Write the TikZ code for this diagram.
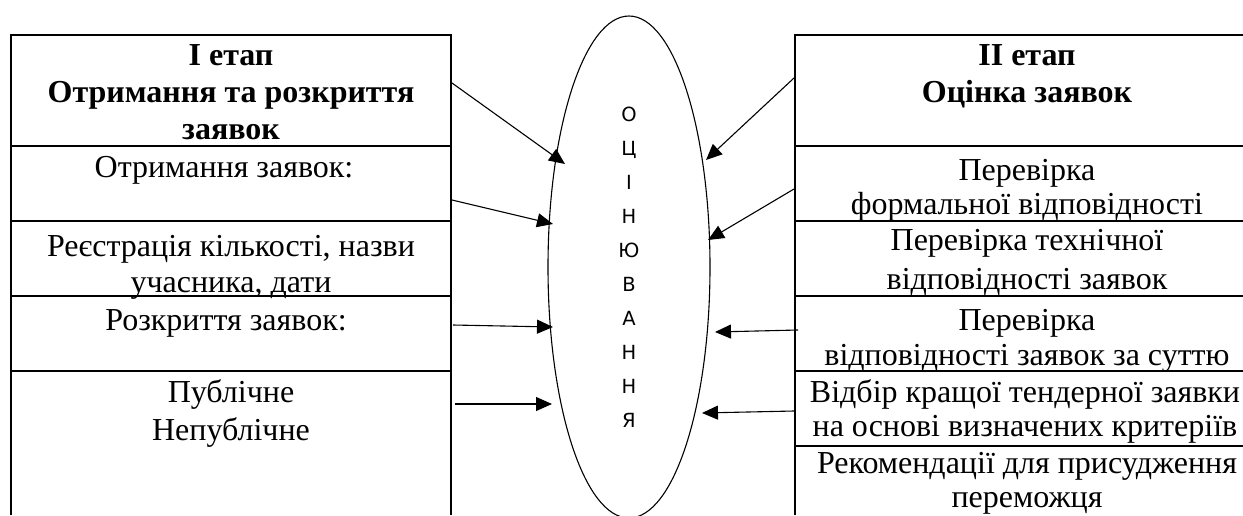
\documentclass[tikz,border=0pt]{standalone}
\usepackage{fontspec}
\setmainfont{Liberation Serif}
\newfontfamily\ellfont{DejaVu Sans}
\usetikzlibrary{arrows.meta,shapes.geometric}
\begin{document}
\begin{tikzpicture}[x=1pt,y=-1pt,
  tab/.style={line width=1.3pt},
  arr/.style={line width=1.1pt,-{Triangle[length=16pt,width=14pt]}},
  txt/.style={font=\fontsize{32}{37}\selectfont, anchor=base, inner sep=0pt},
  hdr/.style={font=\fontsize{32}{37}\selectfont\bfseries, anchor=base, inner sep=0pt},
  letter/.style={font=\ellfont\fontsize{19.5}{22}\selectfont, anchor=base, inner sep=0pt},
  ]
\useasboundingbox (0,0) rectangle (1243,515);
% left table
\draw[tab] (11,515) -- (11,35) -- (451,35) -- (451,515);
\foreach \y in {146,221,296,371} \draw[tab] (11,\y) -- (451,\y);
% right table
\draw[tab] (1243,35) -- (795,35) -- (795,515);
\foreach \y in {146,221,296,371,446} \draw[tab] (795,\y) -- (1243,\y);
% ellipse
\node[draw, ellipse, line width=1.1pt, minimum width=162pt, minimum height=502pt, inner sep=0pt, outer sep=0pt] (ell) at (629,267) {};
\foreach \c [count=\i from 0] in {О,Ц,І,Н,Ю,В,А,Н,Н,Я}
  \node[letter] (let\i) at (629,{121+34.1*\i}) {\c};
% left texts
\node[hdr] (la1) at (231,65) {І етап};
\node[hdr] (la2) at (231,102) {Отримання та розкриття};
\node[hdr] (la3) at (231,139) {заявок};
\node[txt] (lb1) at (224,177) {Отримання заявок:};
\node[txt] (lc1) at (231,256) {Реєстрація кількості, назви};
\node[txt] (lc2) at (231,292) {учасника, дати};
\node[txt] (ld1) at (226,330) {Розкриття заявок:};
\node[txt] (le1) at (231,402) {Публічне};
\node[txt] (le2) at (231,440) {Непублічне};
% right texts
\node[hdr] (ra1) at (1027,65) {ІІ етап};
\node[hdr] (ra2) at (1027,102) {Оцінка заявок};
\node[txt] (rb1) at (1027,180) {Перевірка};
\node[txt] (rb2) at (1027,214) {формальної відповідності};
\node[txt] (rc1) at (1027,250) {Перевірка технічної};
\node[txt] (rc2) at (1027,289) {відповідності заявок};
\node[txt] (rd1) at (1027,330) {Перевірка};
\node[txt] (rd2) at (1027,365) {відповідності заявок за суттю};
\node[txt] (re1) at (1025,402) {Відбір кращої тендерної заявки};
\node[txt] (re2) at (1025,436) {на основі визначених критеріїв};
\node[txt] (rf1) at (1027,473) {Рекомендації для присудження};
\node[txt] (rf2) at (1027,507) {переможця};
% arrow ends
\coordinate (lt1) at (452,83);  \coordinate (lh1) at (565,164);
\coordinate (lt2) at (452,200); \coordinate (lh2) at (553,224);
\coordinate (lt3) at (453,325); \coordinate (lh3) at (553,327);
\coordinate (lt4) at (455,404); \coordinate (lh4) at (552,404);
\coordinate (rt1) at (794,78);  \coordinate (rh1) at (706,160);
\coordinate (rt2) at (794,189); \coordinate (rh2) at (708,240);
\coordinate (rt3) at (798,330); \coordinate (rh3) at (715,332);
\coordinate (rt4) at (794,411); \coordinate (rh4) at (702,413);
\foreach \s in {l,r} \foreach \k in {1,2,3,4} \draw[arr] (\s t\k) -- (\s h\k);
\end{tikzpicture}
\end{document}
